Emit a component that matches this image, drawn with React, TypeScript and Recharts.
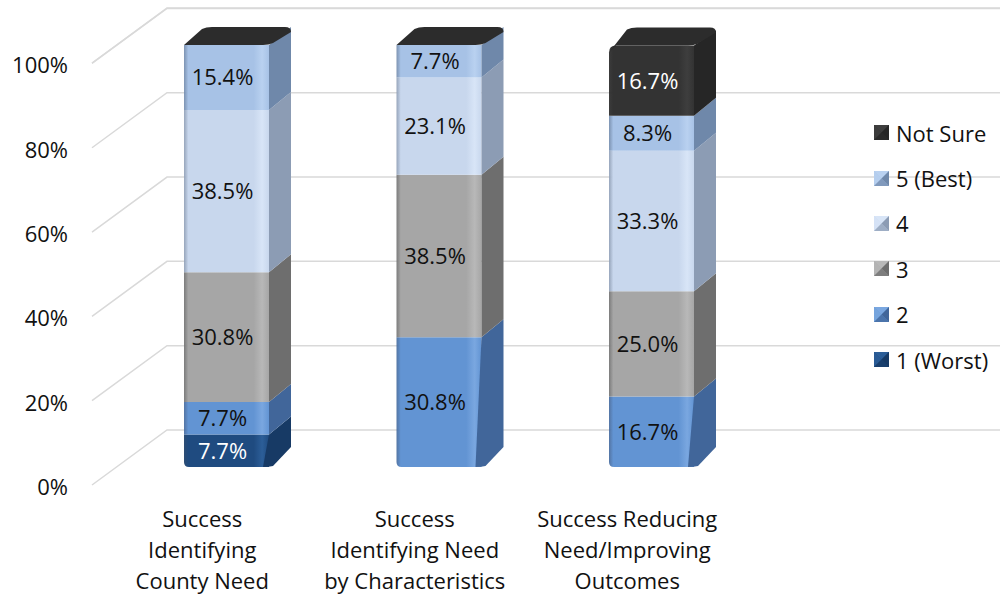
import React from 'react';
import { BarChart, Bar, XAxis, YAxis, CartesianGrid, LabelList, Legend } from 'recharts';

// Category labels, one line per entry
const categoryLines: string[][] = [
  ['Success', 'Identifying', 'County Need'],
  ['Success', 'Identifying Need', 'by Characteristics'],
  ['Success Reducing', 'Need/Improving', 'Outcomes'],
];

// Share of responses (%) per rating, one value per category
const worst = [7.7, 0, 0];
const two = [7.7, 30.8, 16.7];
const three = [30.8, 38.5, 25.0];
const four = [38.5, 23.1, 33.3];
const best = [15.4, 7.7, 8.3];
const notSure = [0, 0, 16.7];

const yTicks = [0, 20, 40, 60, 80, 100];

type Series = {
  key: string;
  name: string;
  values: number[];
  front: string;
  light: string;
  side: string;
  text: string;
};

const series: Series[] = [
  { key: 'worst', name: '1 (Worst)', values: worst, front: '#1f4b80', light: '#2c5e98', side: '#173a65', text: '#ffffff' },
  { key: 'two', name: '2', values: two, front: '#6294d3', light: '#7aa7e0', side: '#41669a', text: '#111111' },
  { key: 'three', name: '3', values: three, front: '#a6a6a6', light: '#b8b8b8', side: '#6e6e6e', text: '#111111' },
  { key: 'four', name: '4', values: four, front: '#c8d7ed', light: '#d8e5f7', side: '#8c9cb4', text: '#111111' },
  { key: 'best', name: '5 (Best)', values: best, front: '#a7c2e6', light: '#b9d1f0', side: '#6f88aa', text: '#111111' },
  { key: 'notSure', name: 'Not Sure', values: notSure, front: '#333333', light: '#3e3e3e', side: '#262626', text: '#ffffff' },
];

const data = categoryLines.map((_, i) => {
  const row: Record<string, number> = { idx: i };
  series.forEach((s) => {
    row[s.key] = s.values[i];
  });
  return row;
});

// 3D projection: the bars sit behind the front (axis) plane
const SHIFT_X = 24;
const SHIFT_Y = -20;
const DEPTH_X = 22;
const DEPTH_Y = 18;
// back wall of the grid
const WALL_X = 75;
const WALL_Y = 55;
const GRID_RIGHT = 1000;

const FONT = '"Open Sans", "Noto Sans", sans-serif';
const CAP_COLOR = '#2c2c2c';

const isBottom = (si: number, idx: number) => {
  for (let k = 0; k < si; k++) if (series[k].values[idx] > 0) return false;
  return true;
};

const makeShape = (si: number) => (props: any) => {
  const s = series[si];
  const { x, y, width, height, index } = props;
  const fx = x + SHIFT_X;
  const fy = y + SHIFT_Y;
  const h = Math.max(0, height || 0);
  const w = width;
  const isTop = si === series.length - 1;
  const bottom = isBottom(si, index);
  const r = bottom ? 5 : 0;
  const parts: React.ReactNode[] = [];
  if (h > 0) {
    // rounded top edge for a visible top segment
    const rt = isTop ? 7 : 0;
    const top = rt
      ? `M${fx},${fy + rt} Q${fx},${fy} ${fx + rt},${fy} H${fx + w}`
      : `M${fx},${fy} H${fx + w}`;
    const frontPath = r
      ? `${top} V${fy + h} H${fx + r} Q${fx},${fy + h} ${fx},${fy + h - r} Z`
      : `${top} V${fy + h} H${fx} Z`;
    parts.push(<path key="f" d={frontPath} fill={`url(#front-${s.key})`} />);
    const sx = fx + w;
    const sideTop = rt
      ? `M${sx},${fy} L${sx + DEPTH_X},${fy - DEPTH_Y + 3}`
      : `M${sx},${fy} L${sx + DEPTH_X},${fy - DEPTH_Y}`;
    const sidePath = r
      ? `${sideTop} V${fy + h - DEPTH_Y - 2} L${sx + 4},${fy + h - 1} Q${sx},${fy + h} ${sx - 6},${fy + h} Z`
      : `${sideTop} V${fy + h - DEPTH_Y} L${sx},${fy + h} Z`;
    parts.push(<path key="s" d={sidePath} fill={s.side} />);
  }
  if (isTop) {
    const capPath = `M${fx},${fy + (h > 0 ? 7 : 0)} L${fx + DEPTH_X - 4},${fy - DEPTH_Y + 2} Q${fx + DEPTH_X},${fy - DEPTH_Y} ${fx + DEPTH_X + 6},${fy - DEPTH_Y} H${fx + w + DEPTH_X - 6} Q${fx + w + DEPTH_X},${fy - DEPTH_Y} ${fx + w + DEPTH_X},${fy - DEPTH_Y + 5} L${fx + w + 4},${fy - 2} Q${fx + w},${fy} ${fx + w - 6},${fy} H${fx + 7} Z`;
    parts.push(<path key="c" d={capPath} fill={CAP_COLOR} />);
  }
  return <g>{parts}</g>;
};

const makeLabel = (si: number) => (props: any) => {
  const { x, y, width, height, value } = props;
  if (!value) return null;
  const s = series[si];
  return (
    <text
      x={x + SHIFT_X + width / 2 - 4}
      y={y + SHIFT_Y + height / 2}
      dy="0.36em"
      textAnchor="middle"
      fill={s.text}
      fontSize={22}
      fontFamily={FONT}
    >
      {`${Number(value).toFixed(1)}%`}
    </text>
  );
};

const GridLine = (props: any) => {
  const { x1, y1 } = props;
  return (
    <polyline
      points={`${x1 - 4},${y1 - 2} ${x1 - 4 + WALL_X},${y1 - 2 - WALL_Y} ${GRID_RIGHT},${y1 - 2 - WALL_Y}`}
      fill="none"
      stroke="#d9d9d9"
      strokeWidth={1.5}
    />
  );
};

const YTick = (props: any) => {
  const { y, payload } = props;
  return (
    <text x={68} y={y} dy="0.36em" textAnchor="end" fill="#111" fontSize={22} fontFamily={FONT}>
      {`${payload.value}%`}
    </text>
  );
};

const XTick = (props: any) => {
  const { x, y, payload } = props;
  const lines = categoryLines[payload.index] || [];
  return (
    <text x={x} y={y} textAnchor="middle" fill="#111" fontSize={22} fontFamily={FONT}>
      {lines.map((ln, i) => (
        <tspan key={i} x={x} y={y + 40 + i * 31}>
          {ln}
        </tspan>
      ))}
    </text>
  );
};

const LegendIcon = ({ s }: { s: Series }) => (
  <svg width={15} height={15} style={{ marginRight: 7, flex: 'none' }}>
    <rect x={0} y={0} width={15} height={15} fill={s.front} />
    <polygon points="0,0 15,0 7.5,7.5" fill={s.light} />
    <polygon points="0,0 0,15 7.5,7.5" fill={s.light} opacity={0.8} />
    <polygon points="15,0 15,15 7.5,7.5" fill={s.side} />
    <polygon points="0,15 15,15 7.5,7.5" fill={s.side} opacity={0.7} />
  </svg>
);

const LegendContent = () => (
  <div style={{ fontFamily: FONT, fontSize: 22, color: '#111' }}>
    {[...series].reverse().map((s) => (
      <div key={s.key} style={{ display: 'flex', alignItems: 'center', height: 45.4, whiteSpace: 'nowrap' }}>
        <LegendIcon s={s} />
        <span>{s.name}</span>
      </div>
    ))}
  </div>
);

const LEGEND_W = 130;

export default function App() {
  return (
    <div style={{ position: 'absolute', left: 0, top: 0, width: 1002, height: 601, background: '#fff' }}>
      <BarChart
        width={1002}
        height={601}
        data={data}
        margin={{ top: 65, right: 268.5 - LEGEND_W, bottom: 14, left: 0 }}
        barSize={85}
      >
        <defs>
          {series.map((s) => (
            <linearGradient key={s.key} id={`front-${s.key}`} x1="0" y1="0" x2="1" y2="0">
              <stop offset="0" stopColor={s.side} stopOpacity={0.9} />
              <stop offset="0.05" stopColor={s.front} />
              <stop offset="0.82" stopColor={s.front} />
              <stop offset="0.92" stopColor={s.light} />
              <stop offset="1" stopColor={s.front} />
            </linearGradient>
          ))}
        </defs>
        <CartesianGrid vertical={false} horizontal={GridLine as any} />
        <XAxis
          dataKey="idx"
          axisLine={false}
          tickLine={false}
          tickSize={0}
          tickMargin={0}
          height={100}
          interval={0}
          tick={XTick}
        />
        <YAxis
          width={96}
          domain={[0, 100]}
          ticks={yTicks}
          axisLine={false}
          tickLine={false}
          tick={YTick}
        />
        <Legend
          layout="vertical"
          align="right"
          verticalAlign="top"
          content={LegendContent}
          wrapperStyle={{ left: 874, top: 110, right: 'auto', width: LEGEND_W }}
        />
        {series.map((s, si) => (
          <Bar
            key={s.key}
            dataKey={s.key}
            name={s.name}
            stackId="a"
            isAnimationActive={false}
            shape={makeShape(si)}
          >
            <LabelList dataKey={s.key} content={makeLabel(si)} />
          </Bar>
        ))}
      </BarChart>
    </div>
  );
}
